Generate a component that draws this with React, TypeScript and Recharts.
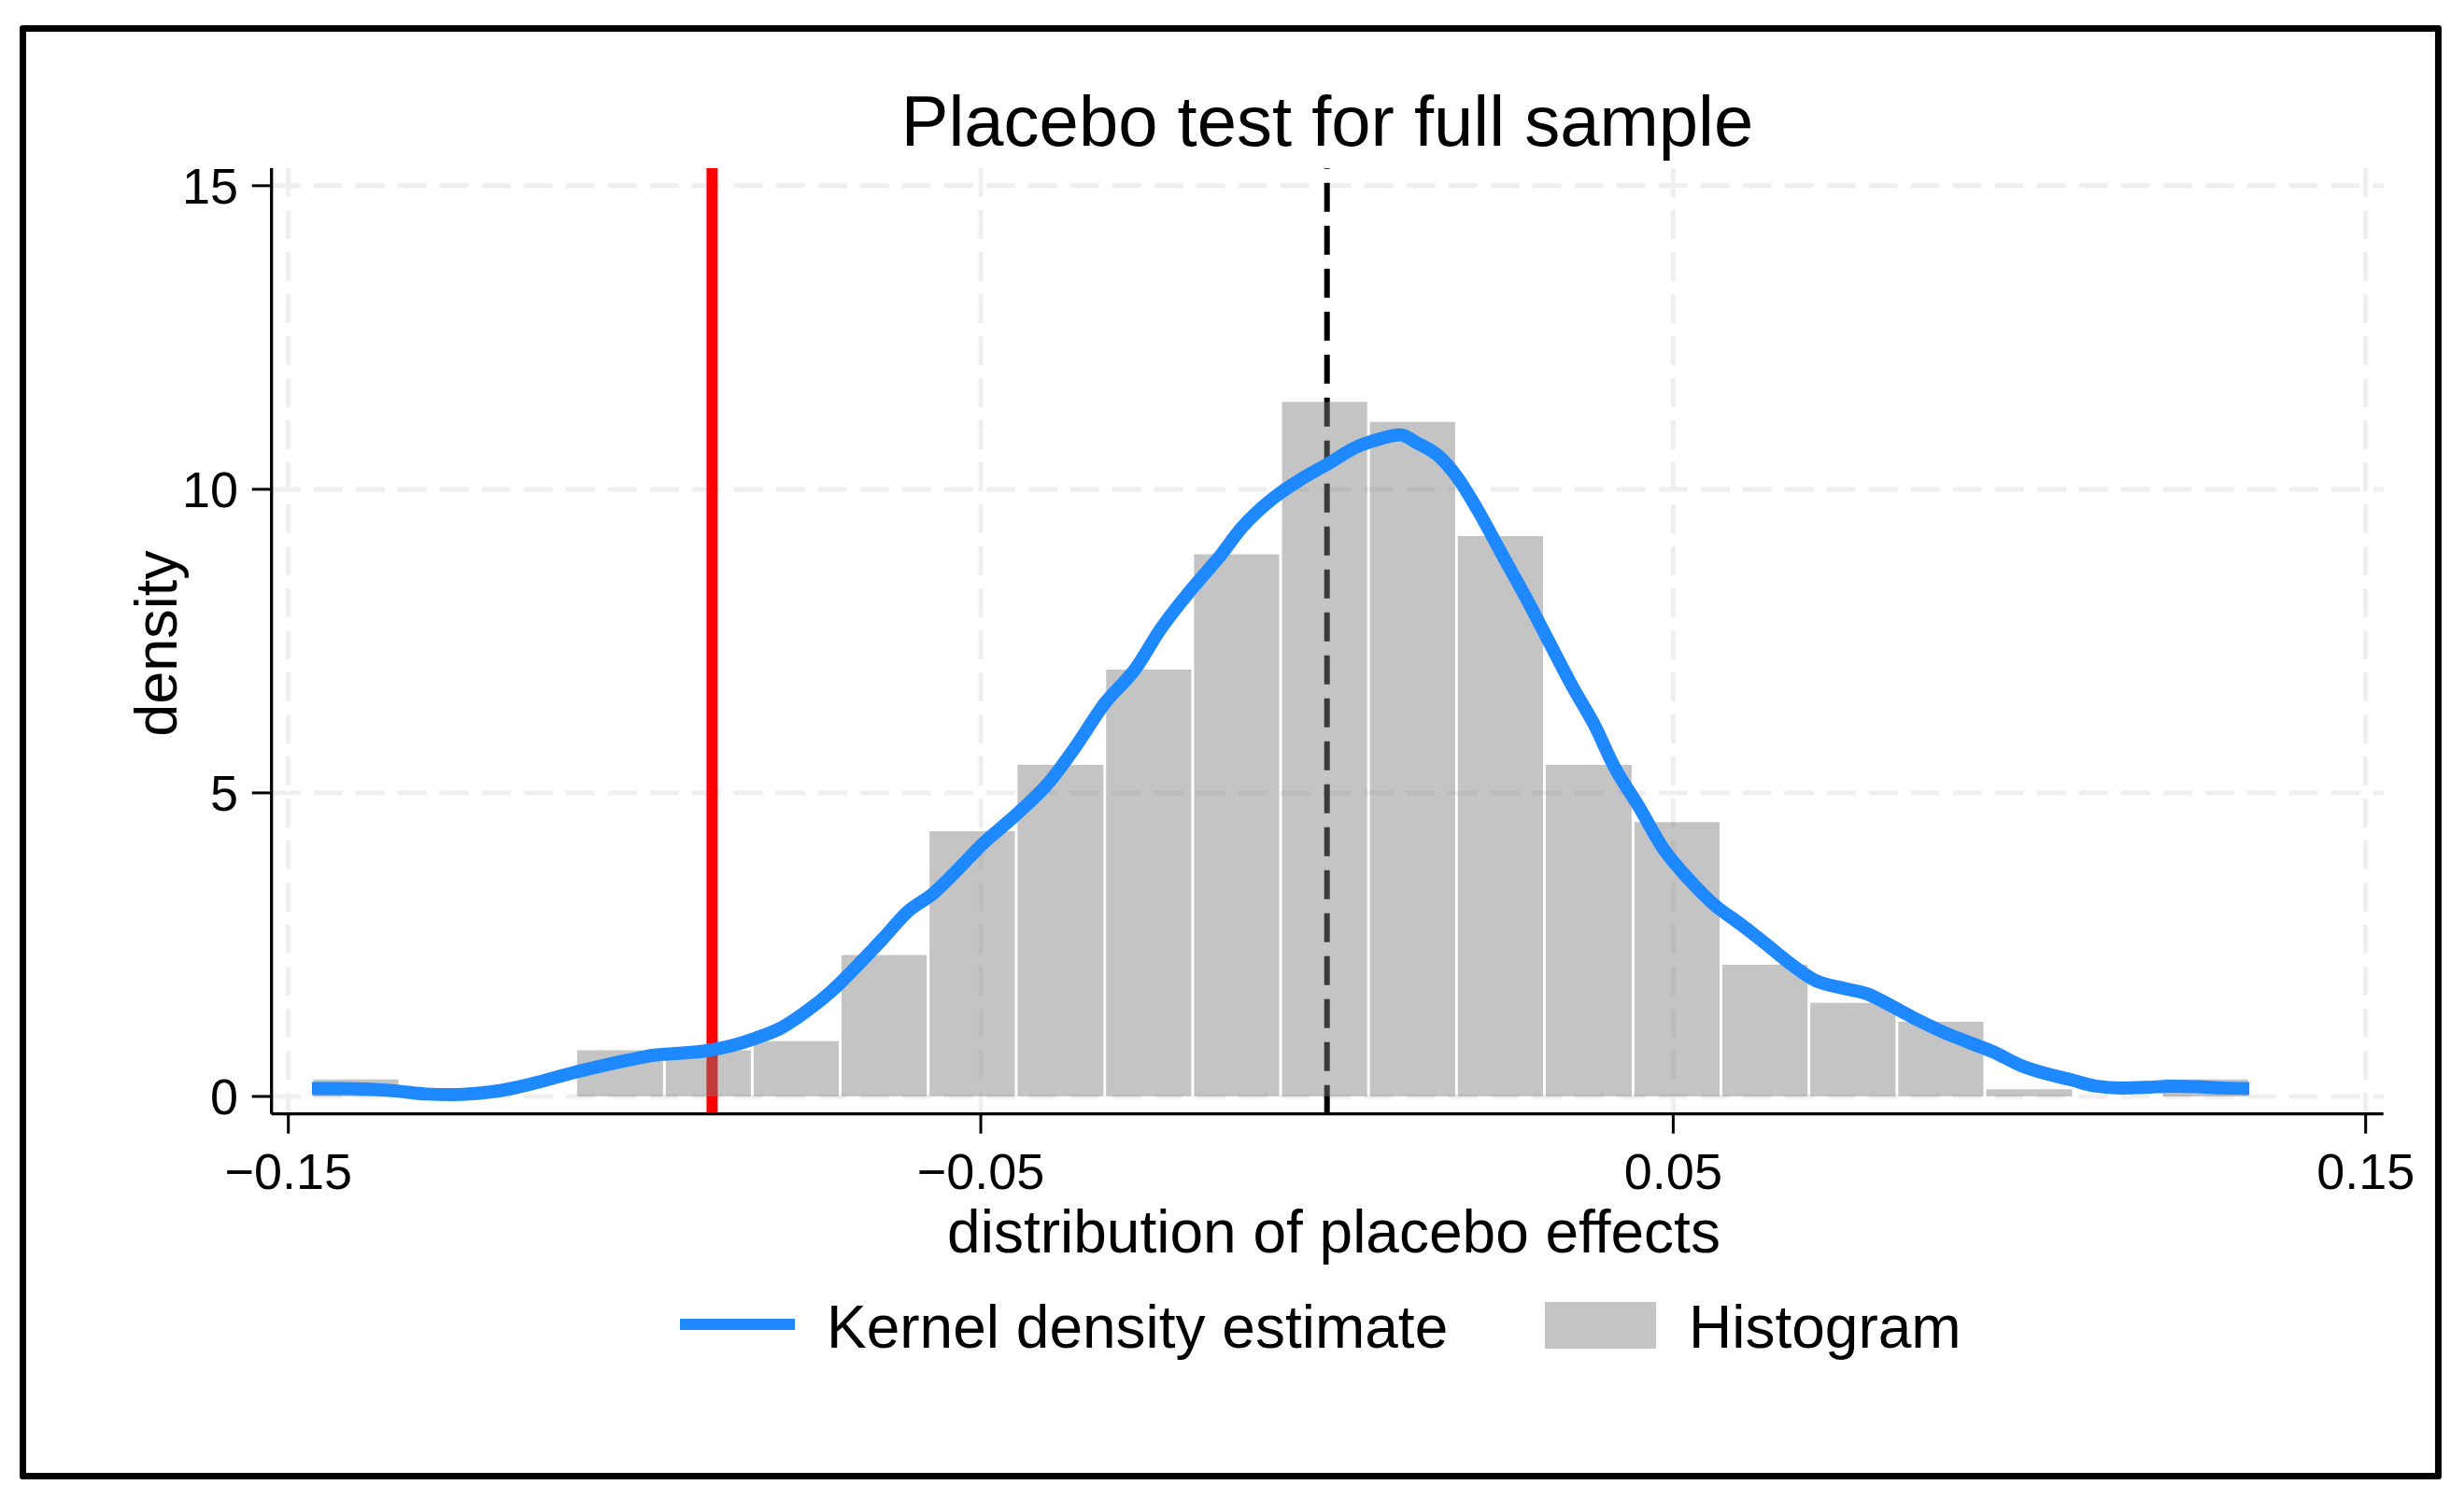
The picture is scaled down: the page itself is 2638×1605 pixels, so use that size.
import React from 'react';
import {
  ComposedChart,
  Line,
  XAxis,
  YAxis,
  CartesianGrid,
  ReferenceLine,
  ReferenceArea,
  Legend,
} from 'recharts';

// ---------- data ----------
const xTicks = [-0.15, -0.05, 0.05, 0.15];
const yTicks = [0, 5, 10, 15];

// histogram bin edges (22 bins)
const binEdges = [
  -0.1466, -0.1339, -0.1212, -0.1085, -0.0957, -0.083, -0.0703, -0.0576,
  -0.0449, -0.0321, -0.0194, -0.0067, 0.006, 0.0187, 0.0314, 0.0442, 0.0569,
  0.0696, 0.0823, 0.095, 0.1078, 0.1205, 0.1332,
];
// histogram densities
const binDensity = [
  0.28, 0, 0, 0.76, 0.76, 0.91, 2.33, 4.37, 5.46, 7.03, 8.93, 11.44, 11.11,
  9.23, 5.46, 4.52, 2.17, 1.54, 1.23, 0.12, 0, 0.28,
];

// kernel density estimate
const kdeX = [
  -0.1466, -0.1424, -0.1381, -0.1344, -0.1302, -0.1265, -0.1228, -0.1192,
  -0.1155, -0.1118, -0.1082, -0.1045, -0.1008, -0.0972, -0.0935, -0.0898,
  -0.0862, -0.0825, -0.0788, -0.0752, -0.0715, -0.0678, -0.0642, -0.0605,
  -0.0569, -0.0532, -0.0501, -0.0448, -0.0401, -0.0362, -0.0322, -0.0275,
  -0.0242, -0.0196, -0.0156, -0.0123, -0.0077, -0.0037, 0.0003, 0.0043, 0.0076,
  0.0106, 0.0129, 0.0162, 0.0188, 0.0215, 0.0255, 0.0288, 0.0321, 0.0354,
  0.0387, 0.0414, 0.045, 0.0487, 0.0523, 0.056, 0.0597, 0.0633, 0.067, 0.0707,
  0.0743, 0.078, 0.0817, 0.0853, 0.089, 0.0927, 0.0963, 0.1, 0.1037, 0.1073,
  0.111, 0.1147, 0.1183, 0.122, 0.1256, 0.1293, 0.1332,
];
const kdeY = [
  0.13, 0.13, 0.12, 0.09, 0.04, 0.03, 0.05, 0.1, 0.19, 0.3, 0.41, 0.51, 0.6,
  0.68, 0.71, 0.75, 0.83, 0.96, 1.13, 1.4, 1.74, 2.16, 2.59, 3.05, 3.34, 3.75,
  4.12, 4.65, 5.18, 5.78, 6.46, 7.07, 7.67, 8.35, 8.88, 9.37, 9.86, 10.17,
  10.43, 10.7, 10.83, 10.9, 10.77, 10.54, 10.2, 9.71, 8.88, 8.2, 7.48, 6.76,
  6.1, 5.45, 4.78, 4.06, 3.57, 3.15, 2.84, 2.52, 2.18, 1.9, 1.79, 1.69, 1.48,
  1.26, 1.06, 0.89, 0.73, 0.52, 0.38, 0.28, 0.17, 0.14, 0.15, 0.17, 0.16, 0.14,
  0.13,
];

const actualEffect = -0.0888; // red line
const zeroEffect = 0; // dashed line

const xDomain = [-0.15243, 0.15256];
const yDomain = [-0.288, 15.29];

// ---------- styling ----------
const FONT = '"Liberation Sans", Arial, Helvetica, sans-serif';
const BLUE = '#1e88fe';
const BAR_GAP = 0.0002;

const kdeData = kdeX.map((x, i) => ({ x, y: kdeY[i] }));
const bins = binDensity.map((d, i) => ({ x1: binEdges[i], x2: binEdges[i + 1], d }));

const fmtX = (v: number) =>
  (v < 0 ? '\u2212' : '') + Math.abs(v).toFixed(2);

const renderLegend = () => (
  <svg width={2638} height={110} style={{ display: 'block' }}>
    <line x1={728} x2={851} y1={48} y2={48} stroke={BLUE} strokeWidth={12} />
    <text x={885} y={73} fontSize={64} fontFamily={FONT} fill="#000">
      Kernel density estimate
    </text>
    <rect x={1654} y={24} width={119} height={50} fill="#c4c4c4" />
    <text x={1808} y={73} fontSize={64} fontFamily={FONT} fill="#000">
      Histogram
    </text>
  </svg>
);

export default function App() {
  return (
    <div
      style={{
        position: 'absolute',
        left: 0,
        top: 0,
        width: 2638,
        height: 1605,
        background: '#fff',
        fontFamily: FONT,
      }}
    >
      <div
        style={{
          position: 'absolute',
          left: 21,
          top: 27,
          width: 2593,
          height: 1557,
          boxSizing: 'border-box',
          border: '7px solid #000',
          borderRadius: 3,
        }}
      />
      <div style={{ position: 'absolute', left: 0, top: 0 }}>
        <ComposedChart
          width={2638}
          height={1605}
          data={kdeData}
          margin={{ top: 180, right: 86.3, left: 0, bottom: 352.3 }}
        >
          <CartesianGrid
            stroke="#efefef"
            strokeWidth={5}
            strokeDasharray="31 14"
            horizontalValues={yTicks}
            verticalValues={xTicks}
          />
          <XAxis
            dataKey="x"
            type="number"
            domain={xDomain}
            allowDataOverflow
            ticks={xTicks}
            interval={0}
            tickFormatter={fmtX}
            height={60}
            tickSize={21}
            tickMargin={21}
            axisLine={{ stroke: '#000', strokeWidth: 3.3 }}
            tickLine={{ stroke: '#000', strokeWidth: 3 }}
            tick={{ fontSize: 54, fill: '#000', fontFamily: FONT }}
          />
          <YAxis
            type="number"
            domain={yDomain}
            allowDataOverflow
            ticks={yTicks}
            interval={0}
            width={290.7}
            tickSize={21}
            tickMargin={14.7}
            axisLine={{ stroke: '#000', strokeWidth: 3.3 }}
            tickLine={{ stroke: '#000', strokeWidth: 3 }}
            tick={{ fontSize: 54, fill: '#000', fontFamily: FONT }}
          />
          <ReferenceLine
            x={actualEffect}
            stroke="#ff0000"
            strokeWidth={12}
            zIndex={10}
          />
          <ReferenceLine
            x={zeroEffect}
            stroke="#000"
            strokeWidth={6}
            strokeDasharray="31 15"
            zIndex={20}
          />
          {bins
            .filter((b) => b.d > 0)
            .map((b, i) => (
              <ReferenceArea
                key={i}
                x1={b.x1 + BAR_GAP}
                x2={b.x2 - BAR_GAP}
                y1={0}
                y2={b.d}
                fill="#7f7f7f"
                fillOpacity={0.46}
                stroke="none"
                zIndex={30}
              />
            ))}
          <Line
            type="monotone"
            dataKey="y"
            stroke={BLUE}
            strokeWidth={14}
            strokeLinejoin="round"
            dot={false}
            activeDot={false}
            isAnimationActive={false}
            zIndex={400}
          />
          <Legend
            content={renderLegend}
            layout="horizontal"
            verticalAlign="middle"
            align="center"
            wrapperStyle={{ position: 'absolute', left: 0, top: 1370, width: 2638, height: 110 }}
          />
        </ComposedChart>
      </div>
      <svg
        width={2638}
        height={1605}
        style={{ position: 'absolute', left: 0, top: 0, pointerEvents: 'none' }}
      >
        <text x={1421} y={156} textAnchor="middle" fontSize={76} fontFamily={FONT} fill="#000">
          Placebo test for full sample
        </text>
        <text x={1428} y={1341} textAnchor="middle" fontSize={64} fontFamily={FONT} fill="#000">
          distribution of placebo effects
        </text>
        <text
          x={189}
          y={689}
          textAnchor="middle"
          fontSize={63}
          fontFamily={FONT}
          fill="#000"
          transform="rotate(-90 189 689)"
        >
          density
        </text>
      </svg>
    </div>
  );
}
